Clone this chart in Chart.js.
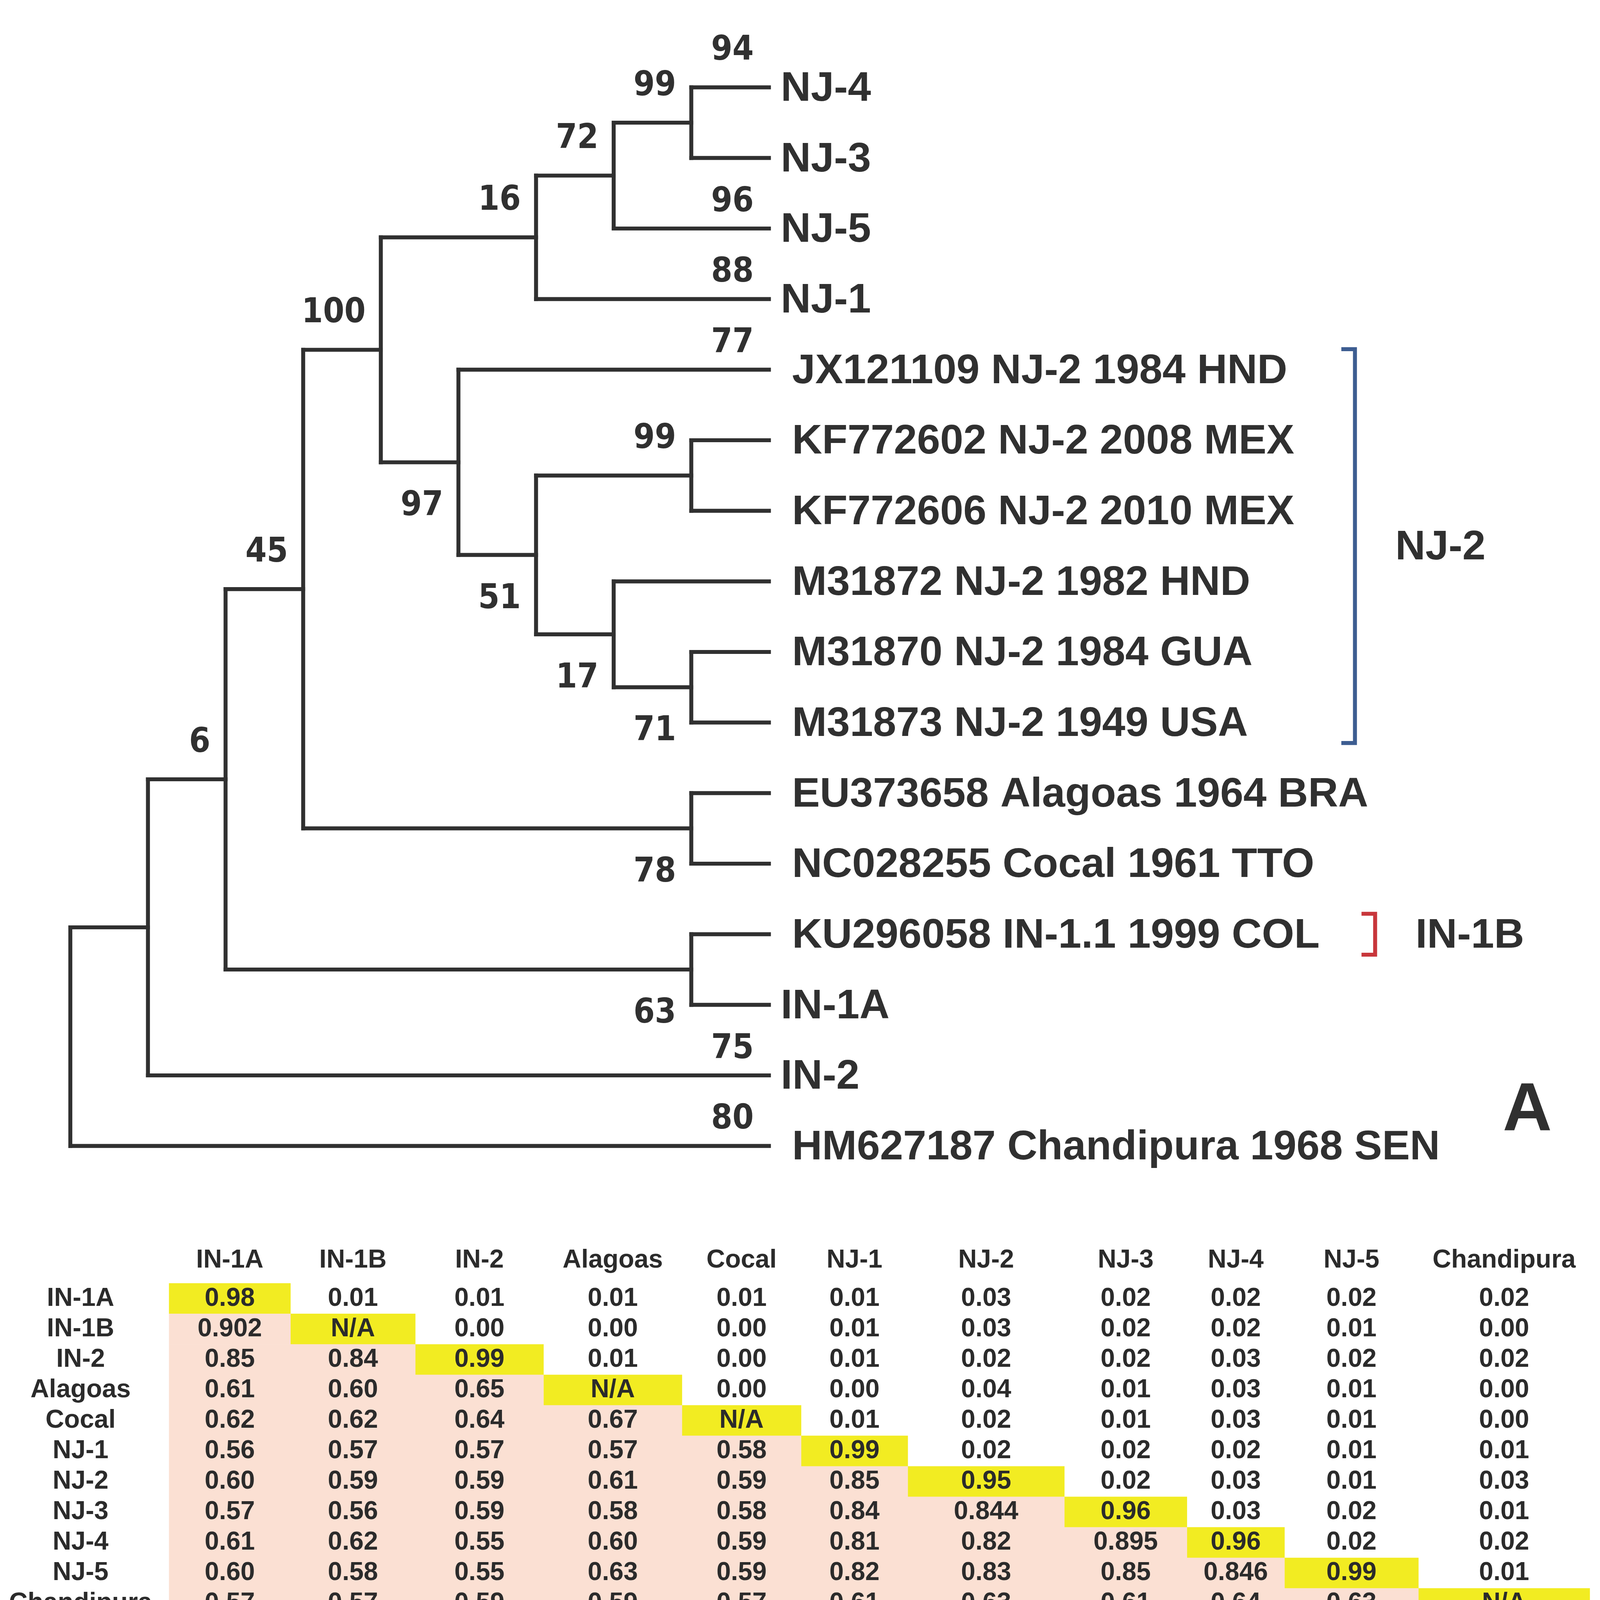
<!DOCTYPE html>
<html>
<head>
<meta charset="utf-8">
<script src="https://cdn.jsdelivr.net/npm/chart.js@4.4.1/dist/chart.umd.min.js"></script>
<style>
html, body { margin: 0; padding: 0; background: #fff; overflow: hidden; }
canvas { display: block; }
</style>
</head>
<body>
<canvas id="treeChart"></canvas>
<canvas id="simChart"></canvas>
<script>
// ---- panel A: tree ----
// leaves, top to bottom
var leafNames = ['NJ-4', 'NJ-3', 'NJ-5', 'NJ-1',
	'JX121109 NJ-2 1984 HND', 'KF772602 NJ-2 2008 MEX', 'KF772606 NJ-2 2010 MEX',
	'M31872 NJ-2 1982 HND', 'M31870 NJ-2 1984 GUA', 'M31873 NJ-2 1949 USA',
	'EU373658 Alagoas 1964 BRA', 'NC028255 Cocal 1961 TTO', 'KU296058 IN-1.1 1999 COL',
	'IN-1A', 'IN-2', 'HM627187 Chandipura 1968 SEN'];
var leafSupport = [94, null, 96, 88, 77, null, null, null, null, null, null, null, null, null, 75, 80];
// internal nodes: children ('L3' = leaf 3, number = node), depth level, bootstrap
var nodeChildren = [['L0', 'L1'], [0, 'L2'], [1, 'L3'], ['L5', 'L6'], ['L8', 'L9'], ['L7', 4], [3, 5],
	['L4', 6], [2, 7], ['L10', 'L11'], [8, 9], ['L12', 'L13'], [10, 11], [12, 'L14'], [13, 'L15']];
var nodeLevel = [8, 7, 6, 8, 8, 7, 6, 5, 4, 8, 3, 8, 2, 1, 0];
var nodeSupport = [99, 72, 16, 99, 71, 17, 51, 97, 100, 78, 45, 63, 6, null, null];
var leafLevel = 9;
// clade brackets
var groupNames = ['NJ-2', 'IN-1B'];
var groupFirst = [4, 12];
var groupLast = [9, 12];

var groupColors = ['#3d5d91', '#c8363b'];
var groupX = [16.55, 16.81];
var ink = '#303030';

// page is laid out on a 4842 x 5381 design grid, scaled to the window
var u = window.innerWidth / 4842;
function px(v) { return v * u; }
var treeCanvas = document.getElementById('treeChart');
var simCanvas = document.getElementById('simChart');
treeCanvas.width = Math.round(px(4842)); treeCanvas.height = Math.round(px(3606));
simCanvas.width = Math.round(px(4842)); simCanvas.height = Math.round(px(1775));

function isLeaf(ref) { return typeof ref === 'string'; }
function yOf(ref) {
	if (isLeaf(ref)) return +ref.slice(1);
	var c = nodeChildren[ref];
	return (yOf(c[0]) + yOf(c[1])) / 2;
}
function xOf(ref) { return isLeaf(ref) ? leafLevel : nodeLevel[ref]; }

var treeSets = [];
function seg(pts, color, w) {
	treeSets.push({
		data: pts, showLine: true, pointRadius: 0, borderColor: color,
		borderWidth: px(w), borderCapStyle: 'square', borderJoinStyle: 'miter', tension: 0
	});
}
var supportLabels = [];
nodeChildren.forEach(function (c, n) {
	var lv = nodeLevel[n];
	seg([{ x: lv, y: yOf(c[0]) }, { x: lv, y: yOf(c[1]) }], ink, 12);
	c.forEach(function (ch, j) {
		seg([{ x: lv, y: yOf(ch) }, { x: xOf(ch), y: yOf(ch) }], ink, 12);
		if (isLeaf(ch)) {
			var s = leafSupport[+ch.slice(1)];
			if (s != null) supportLabels.push({ x: leafLevel, y: yOf(ch), t: s, pos: 'leaf' });
		} else if (nodeSupport[ch] != null) {
			supportLabels.push({ x: nodeLevel[ch], y: yOf(ch), t: nodeSupport[ch], pos: j === 0 ? 'above' : 'below' });
		}
	});
});
groupNames.forEach(function (g, i) {
	var x = groupX[i], t = x - 0.15;
	var y0 = groupFirst[i] - 0.29, y1 = groupLast[i] + 0.29;
	seg([{ x: t, y: y0 }, { x: x, y: y0 }, { x: x, y: y1 }, { x: t, y: y1 }], groupColors[i], 12);
});

function font(size, fam) { return 'bold ' + px(size) + 'px ' + fam; }
var sans = '"Liberation Sans", Arial, sans-serif';

var treeText = {
	id: 'treeText',
	afterDatasetsDraw: function (chart) {
		var c = chart.ctx, sx = chart.scales.x, sy = chart.scales.y;
		c.save();
		c.fillStyle = ink;
		c.textBaseline = 'middle';
		c.textAlign = 'left';
		c.font = font(126, sans);
		leafNames.forEach(function (nm, i) {
			var off = nm.length <= 5 ? 36 : 70;
			c.fillText(nm, sx.getPixelForValue(leafLevel) + px(off), sy.getPixelForValue(i) + px(6));
		});
		groupNames.forEach(function (g, i) {
			c.fillText(g, sx.getPixelForValue(groupX[i] + 0.52), sy.getPixelForValue((groupFirst[i] + groupLast[i]) / 2) + px(6));
		});
		c.textAlign = 'right';
		c.font = font(103, '"DejaVu Sans Condensed", "DejaVu Sans", sans-serif');
		supportLabels.forEach(function (s) {
			var dy = s.pos === 'below' ? 134 : (s.pos === 'above' ? -110 : -79);
			if (s.pos === 'leaf' && s.y === 0) dy = -110; // top label sits a bit higher
			c.fillText(String(s.t), sx.getPixelForValue(s.x) - px(46), sy.getPixelForValue(s.y) + px(dy));
		});
		c.textAlign = 'center';
		c.font = font(206, sans);
		c.fillText('A', sx.getPixelForValue(18.77), sy.getPixelForValue(14.47) + px(10));
		c.restore();
	}
};

new Chart(treeCanvas.getContext('2d'), {
	type: 'scatter',
	data: { datasets: treeSets },
	options: {
		responsive: false, animation: false,
		layout: { padding: 0 },
		plugins: { legend: { display: false }, tooltip: { enabled: false } },
		scales: {
			x: { type: 'linear', min: -0.906, max: 19.707, display: false },
			y: { type: 'linear', min: -1.238, max: 15.644, reverse: true, display: false }
		}
	},
	plugins: [treeText]
});

// ---- panel B: similarity matrix ----
var simNames = ['IN-1A', 'IN-1B', 'IN-2', 'Alagoas', 'Cocal', 'NJ-1', 'NJ-2', 'NJ-3', 'NJ-4', 'NJ-5', 'Chandipura'];
var rowIN1A = [0.98, 0.01, 0.01, 0.01, 0.01, 0.01, 0.03, 0.02, 0.02, 0.02, 0.02];
var rowIN1B = [0.902, null, 0.00, 0.00, 0.00, 0.01, 0.03, 0.02, 0.02, 0.01, 0.00];
var rowIN2 = [0.85, 0.84, 0.99, 0.01, 0.00, 0.01, 0.02, 0.02, 0.03, 0.02, 0.02];
var rowAlagoas = [0.61, 0.60, 0.65, null, 0.00, 0.00, 0.04, 0.01, 0.03, 0.01, 0.00];
var rowCocal = [0.62, 0.62, 0.64, 0.67, null, 0.01, 0.02, 0.01, 0.03, 0.01, 0.00];
var rowNJ1 = [0.56, 0.57, 0.57, 0.57, 0.58, 0.99, 0.02, 0.02, 0.02, 0.01, 0.01];
var rowNJ2 = [0.60, 0.59, 0.59, 0.61, 0.59, 0.85, 0.95, 0.02, 0.03, 0.01, 0.03];
var rowNJ3 = [0.57, 0.56, 0.59, 0.58, 0.58, 0.84, 0.844, 0.96, 0.03, 0.02, 0.01];
var rowNJ4 = [0.61, 0.62, 0.55, 0.60, 0.59, 0.81, 0.82, 0.895, 0.96, 0.02, 0.02];
var rowNJ5 = [0.60, 0.58, 0.55, 0.63, 0.59, 0.82, 0.83, 0.85, 0.846, 0.99, 0.01];
var rowChandipura = [0.57, 0.57, 0.59, 0.59, 0.57, 0.61, 0.63, 0.61, 0.64, 0.63, null];
var simRows = [rowIN1A, rowIN1B, rowIN2, rowAlagoas, rowCocal, rowNJ1, rowNJ2, rowNJ3, rowNJ4, rowNJ5, rowChandipura];
var statNames = ['Intra-similarity', 'Inter-similarity'];
var statHeads = ['AVG', 'STD'];
var statAvg = [0.866, 0.656];
var statStd = [0.016, 0.009];

// column layout (widths in table units)
var tableLeft = 149;
var colWidths = [107, 110, 113, 122, 105, 94, 138, 108, 86, 118, 151];
var edges = [tableLeft];
colWidths.forEach(function (w, i) { edges.push(edges[i] + w); });
function colMid(i) { return (edges[i] + edges[i + 1]) / 2; }

function fmt(v) {
	if (v == null) return 'N/A';
	var s = v.toFixed(3);
	return s.charAt(s.length - 1) === '0' ? v.toFixed(2) : s;
}

var peachBars = [], yellowBars = [];
simNames.forEach(function (n, r) {
	if (r > 0) peachBars.push({ x: [edges[0], edges[r]], y: r });
	yellowBars.push({ x: [edges[r], edges[r + 1]], y: r });
});

var simText = {
	id: 'simText',
	afterDatasetsDraw: function (chart) {
		var c = chart.ctx, sx = chart.scales.x, sy = chart.scales.y;
		c.save();
		c.fillStyle = '#2b2b2b';
		c.textAlign = 'center';
		c.textBaseline = 'middle';
		c.font = font(78, sans);
		simNames.forEach(function (n, i) {
			c.fillText(n, sx.getPixelForValue(colMid(i)), sy.getPixelForValue(-1.25));
			c.fillText(n, sx.getPixelForValue(71), sy.getPixelForValue(i));
		});
		simRows.forEach(function (row, r) {
			row.forEach(function (v, k) {
				c.fillText(fmt(v), sx.getPixelForValue(colMid(k)), sy.getPixelForValue(r));
			});
		});
		c.fillStyle = '#383838';
		statHeads.forEach(function (h, k) {
			c.fillText(h, sx.getPixelForValue(colMid(6 + k)), sy.getPixelForValue(12));
		});
		statNames.forEach(function (n, r) {
			c.fillText(n, sx.getPixelForValue(colMid(4)), sy.getPixelForValue(13 + r));
			c.fillText(fmt(statAvg[r]), sx.getPixelForValue(colMid(6)), sy.getPixelForValue(13 + r));
			c.fillText(statStd[r].toFixed(3), sx.getPixelForValue(colMid(7)), sy.getPixelForValue(13 + r));
		});
		c.fillStyle = ink;
		c.font = font(206, sans);
		c.fillText('B', sx.getPixelForValue(1356), sy.getPixelForValue(13.2) + px(10));
		c.restore();
	}
};

new Chart(simCanvas.getContext('2d'), {
	type: 'bar',
	data: {
		datasets: [
			{ data: peachBars, backgroundColor: '#fbe0d3' },
			{ data: yellowBars, backgroundColor: '#f2ec22' }
		]
	},
	options: {
		indexAxis: 'y',
		responsive: false, animation: false,
		layout: { padding: 0 },
		datasets: { bar: { grouped: false, barPercentage: 1, categoryPercentage: 1, borderWidth: 0, borderSkipped: false } },
		plugins: { legend: { display: false }, tooltip: { enabled: false } },
		scales: {
			x: { type: 'linear', min: 0, max: 1410, display: false },
			y: {
				type: 'linear', min: -2.64, max: 14.85, reverse: true, display: false,
				// one tick per table row so each bar fills its whole row
				afterBuildTicks: function (s) { s.ticks = simNames.map(function (n, i) { return { value: i }; }); }
			}
		}
	},
	plugins: [simText]
});
</script>
</body>
</html>
